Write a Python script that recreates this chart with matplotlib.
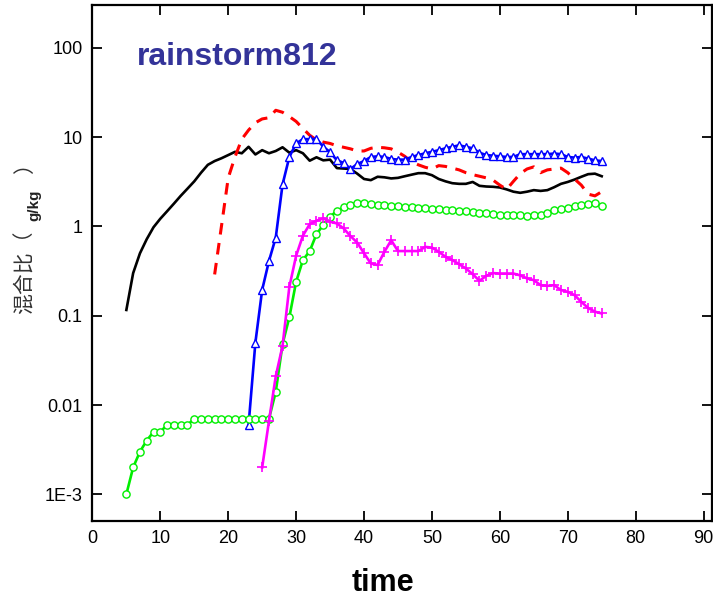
# -*- coding: utf-8 -*-
"""
rainstorm812 混合比时间序列图
"""

import matplotlib
matplotlib.use('Agg')
import matplotlib.pyplot as plt

matplotlib.rcParams['font.family'] = ['Liberation Sans', 'Noto Sans CJK SC', 'DejaVu Sans']
matplotlib.rcParams['axes.unicode_minus'] = False

# 时间轴
t_black = list(range(5, 76))
t_red = list(range(18, 76))
t_blue = list(range(23, 76))
t_magenta = list(range(25, 76))
t_green = list(range(5, 76))

# 各物种混合比 (g/kg)
black_vals = [0.116, 0.30, 0.50, 0.72, 0.98, 1.22, 1.48, 1.8, 2.2, 2.65,
              3.2, 4.0, 4.9, 5.4, 5.8, 6.3, 6.85, 6.6, 7.8, 6.4,
              7.15, 6.6, 7.0, 7.7, 6.7, 7.15, 6.6, 5.45, 5.95, 5.5,
              5.6, 4.5, 4.45, 4.4, 3.9, 3.4, 3.3, 3.6, 3.55, 3.45,
              3.5, 3.65, 3.8, 3.95, 3.95, 3.75, 3.4, 3.2, 3.05, 3.0,
              3.0, 3.15, 2.85, 2.8, 2.78, 2.73, 2.6, 2.45, 2.38, 2.45,
              2.55, 2.5, 2.55, 2.75, 3.0, 3.15, 3.35, 3.6, 3.85, 3.9,
              3.65]
red_vals = [0.29, 1.0, 3.5, 6.0, 9.5, 12.0, 14.5, 16.0, 16.5, 20.0,
            19.0, 17.0, 15.0, 12.5, 10.5, 9.3, 8.8, 8.5, 8.0, 7.7,
            7.4, 7.0, 7.0, 7.5, 7.7, 7.6, 7.4, 6.8, 6.1, 5.3,
            4.9, 4.6, 4.4, 4.8, 4.7, 4.5, 4.3, 4.0, 3.8, 3.65,
            3.5, 3.3, 2.9, 2.6, 3.2, 3.9, 4.4, 4.65, 4.0, 4.3,
            4.4, 4.5, 4.0, 3.4, 2.9, 2.3, 2.2, 2.45]
blue_vals = [0.006, 0.05, 0.195, 0.41, 0.75, 2.95, 6.0, 8.5, 9.5, 9.5,
             9.6, 7.8, 6.8, 5.5, 5.15, 4.4, 5.0, 5.4, 6.0, 6.1,
             6.0, 5.7, 5.6, 5.6, 6.0, 6.3, 6.6, 6.85, 7.15, 7.5,
             7.8, 8.1, 7.8, 7.5, 6.7, 6.3, 6.2, 6.1, 6.0, 6.0,
             6.45, 6.45, 6.45, 6.45, 6.45, 6.55, 6.45, 6.0, 5.9, 6.0,
             5.75, 5.5, 5.4]
magenta_vals = [0.002, 0.0066, 0.021, 0.046, 0.21, 0.47, 0.79, 1.06, 1.16, 1.23,
                1.13, 1.08, 0.95, 0.78, 0.66, 0.50, 0.385, 0.37, 0.52, 0.70,
                0.53, 0.53, 0.53, 0.53, 0.59, 0.58, 0.52, 0.457, 0.42, 0.378,
                0.338, 0.292, 0.246, 0.28, 0.30, 0.297, 0.297, 0.297, 0.283, 0.262,
                0.25, 0.22, 0.216, 0.22, 0.194, 0.185, 0.17, 0.143, 0.122, 0.111,
                0.106]
green_vals = [0.001, 0.002, 0.003, 0.004, 0.005, 0.005, 0.006, 0.006, 0.006, 0.006,
              0.007, 0.007, 0.007, 0.007, 0.007, 0.007, 0.007, 0.007, 0.007, 0.007,
              0.007, 0.007, 0.014, 0.048, 0.096, 0.24, 0.42, 0.53, 0.82, 1.04,
              1.28, 1.5, 1.63, 1.76, 1.81, 1.81, 1.78, 1.75, 1.73, 1.70,
              1.68, 1.66, 1.64, 1.62, 1.60, 1.58, 1.56, 1.54, 1.52, 1.50,
              1.48, 1.46, 1.43, 1.40, 1.37, 1.36, 1.35, 1.35, 1.33, 1.30,
              1.33, 1.35, 1.42, 1.52, 1.55, 1.61, 1.69, 1.75, 1.78, 1.81,
              1.69]

y_ticks = [1e-3, 1e-2, 1e-1, 1, 10, 100]
y_ticklabels = ['1E-3', '0.01', '0.1', '1', '10', '100']
x_ticks = [0, 10, 20, 30, 40, 50, 60, 70, 80, 90]

fig = plt.figure(figsize=(7.13, 5.97), dpi=100)
ax = fig.add_axes([0.1296, 0.1278, 0.8686, 0.8638])

ax.plot(t_black, black_vals, '-', color='black', linewidth=1.9)
ax.plot(t_red, red_vals, '--', color='#ff0000', linewidth=2.2, dashes=(3.8, 2.8))
ax.plot(t_blue, blue_vals, '-^', color='#0000ff', linewidth=1.9,
        markersize=6, markerfacecolor='white', markeredgecolor='#0000ff',
        markeredgewidth=1.0)
ax.plot(t_green, green_vals, '-o', color='#00ee00', linewidth=1.9,
        markersize=5.2, markerfacecolor='white', markeredgecolor='#00ee00',
        markeredgewidth=1.0)
ax.plot(t_magenta, magenta_vals, '-+', color='#ff00ff', linewidth=1.9,
        markersize=7, markeredgewidth=1.2)

ax.set_yscale('log')
ax.set_xlim(0, 91.2)
ax.set_ylim(5.06e-4, 302)
ax.set_xticks(x_ticks)
ax.set_yticks(y_ticks)
ax.set_yticklabels(y_ticklabels)
ax.minorticks_off()
ax.tick_params(direction='in', length=7, width=1.3, labelsize=13, pad=7,
               top=True, right=True)
for s in ax.spines.values():
    s.set_linewidth(1.6)

ax.text(0.072, 0.8836, 'rainstorm812', transform=ax.transAxes,
        fontsize=23, fontweight='bold', color='#333399', va='baseline')

ax.set_xlabel('time', fontsize=22, fontweight='bold')
ax.xaxis.set_label_coords(0.469, -0.092)

# 纵轴标签: 混合比(g/kg)
cjk = ['Noto Sans CJK SC', 'DejaVu Sans']
fig.text(25 / 713, 1 - 314 / 597, '混合比（', rotation=90, fontsize=15,
         ha='center', va='bottom', color='#333333', family=cjk)
fig.text(34 / 713, 1 - 221 / 597, 'g/kg', rotation=90, fontsize=11,
         fontweight='bold', ha='center', va='bottom', color='#222222')
fig.text(25 / 713, 1 - 164 / 597, '）', rotation=90, fontsize=15,
         ha='center', va='center', color='#333333', family=cjk)

plt.savefig('out.png', dpi=100)
plt.close()
